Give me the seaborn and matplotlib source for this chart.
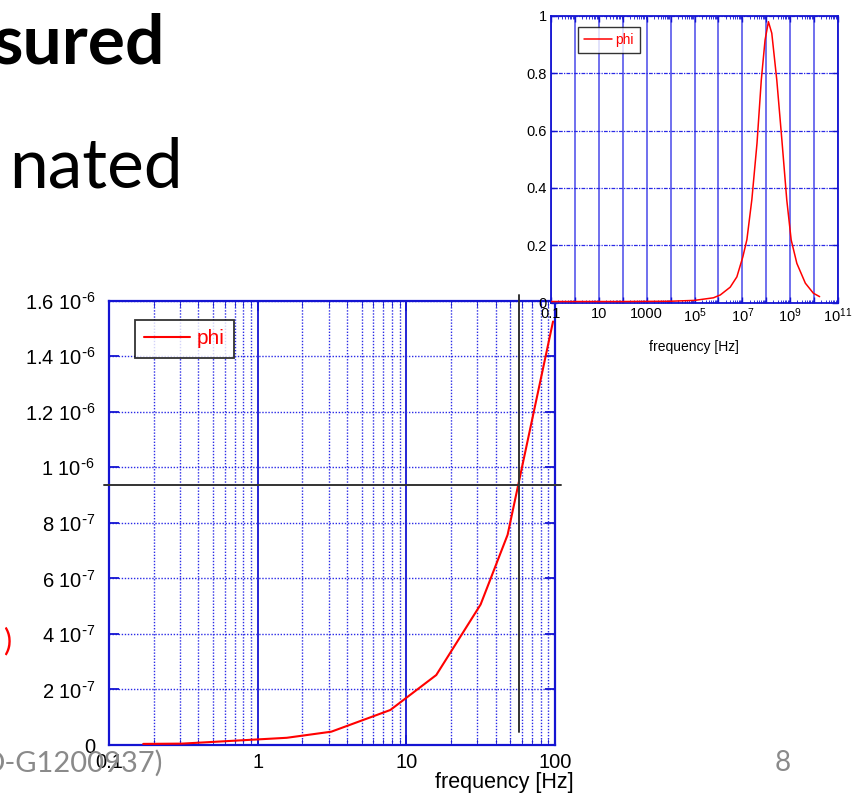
import numpy as np
import matplotlib
matplotlib.use("Agg")
import matplotlib.pyplot as plt
import matplotlib.ticker as mticker
import seaborn as sns

# main plot: phi vs frequency (0.1 - 100 Hz)
main_freq = [0.17, 0.31, 1.57, 3.13, 7.8, 15.9, 31.6, 48.0, 97.0]
main_phi = [0.004e-6, 0.005e-6, 0.026e-6, 0.048e-6, 0.126e-6, 0.252e-6,
            0.506e-6, 0.757e-6, 1.525e-6]
main_xticks = [0.1, 1, 10, 100]
main_xticklabels = ["0.1", "1", "10", "100"]
main_yticks = [0, 0.2e-6, 0.4e-6, 0.6e-6, 0.8e-6, 1.0e-6, 1.2e-6, 1.4e-6, 1.6e-6]
main_yticklabels = ["0",
                    r"2 10$^{\text{-}7}$", r"4 10$^{\text{-}7}$", r"6 10$^{\text{-}7}$",
                    r"8 10$^{\text{-}7}$", r"1 10$^{\text{-}6}$", r"1.2 10$^{\text{-}6}$",
                    r"1.4 10$^{\text{-}6}$", r"1.6 10$^{\text{-}6}$"]
marker_freq = 57.7
marker_phi = 0.938e-6

# inset: full-range peak
inset_freq = [0.1, 1e2, 1e4, 1e5, 6.2e5, 1.2e6, 3.1e6, 5.9e6, 1.05e7, 1.55e7,
              2.5e7, 4.1e7, 6.2e7, 8.9e7, 1.23e8, 1.7e8, 2.75e8, 4.5e8, 7.2e8,
              1.1e9, 1.9e9, 4.3e9, 9.3e9, 1.7e10]
inset_phi = [0.004, 0.004, 0.005, 0.008, 0.017, 0.027, 0.054, 0.09, 0.16, 0.22,
             0.36, 0.556, 0.777, 0.916, 0.98, 0.94, 0.777, 0.567, 0.358,
             0.219, 0.137, 0.068, 0.033, 0.021]
inset_xticks = [1e-1, 1e0, 1e1, 1e2, 1e3, 1e4, 1e5, 1e6, 1e7, 1e8, 1e9, 1e10, 1e11]
inset_xticklabels = ["0.1", "", "10", "", "1000", "", "10$^5$", "", "10$^7$", "",
                     "10$^9$", "", "10$^{11}$"]
inset_yticks = [0, 0.2, 0.4, 0.6, 0.8, 1]
inset_yticklabels = ["0", "0.2", "0.4", "0.6", "0.8", "1"]

sns.set_style("ticks")
plt.rcParams["font.family"] = ["Liberation Sans", "DejaVu Sans"]
plt.rcParams["mathtext.default"] = "regular"
plt.rcParams["text.color"] = "black"
plt.rcParams["xtick.labelcolor"] = "black"
plt.rcParams["ytick.labelcolor"] = "black"

BLUE = "#1414d2"
GRIDBLUE = "#2a2ae6"
SLIDE_FONT = ["Lato", "DejaVu Sans"]

fig = plt.figure(figsize=(8.52, 7.94), dpi=100)

# ---- main axes ----
ax = fig.add_axes([0.1279, 0.0617, 0.5235, 0.5596])
sns.lineplot(x=main_freq, y=main_phi, ax=ax, color="red", linewidth=1.5,
             label="phi", zorder=4)
ax.set_xscale("log")
ax.set_xlim(0.1, 100)
ax.set_ylim(0, 1.6e-6)
ax.set_xticks(main_xticks)
ax.set_xticklabels(main_xticklabels)
ax.set_yticks(main_yticks)
ax.set_yticklabels(main_yticklabels)
ax.xaxis.set_minor_locator(mticker.LogLocator(base=10, subs=np.arange(2, 10)))
ax.xaxis.set_minor_formatter(mticker.NullFormatter())
ax.grid(which="major", axis="x", color=BLUE, linestyle="-", linewidth=1.3)
ax.grid(which="minor", axis="x", color=GRIDBLUE, linestyle=(0, (1, 1.2)), linewidth=1)
ax.grid(which="major", axis="y", color=GRIDBLUE, linestyle=(0, (1, 1.2)), linewidth=1)
ax.tick_params(axis="both", which="major", direction="in", length=7, width=1.3,
               color=BLUE, labelsize=14.5, top=True, right=True)
ax.tick_params(axis="x", which="minor", direction="in", length=4, color=BLUE,
               top=True)
ax.tick_params(axis="y", pad=10)
ax.tick_params(axis="x", pad=6)
for s in ax.spines.values():
    s.set_color(BLUE)
    s.set_linewidth(1.6)
ax.set_xlabel("")
ax.set_ylabel("")

# reference cross-hair lines
ax.plot([-0.011, 1.013], [marker_phi, marker_phi], color="#333333", lw=1.4,
        transform=ax.get_yaxis_transform(), clip_on=False, zorder=5)
ax.plot([marker_freq, marker_freq], [0.029, 1.013], color="#333333", lw=1.4,
        transform=ax.get_xaxis_transform(), clip_on=False, zorder=5)

leg = ax.legend(loc="upper left", bbox_to_anchor=(0.058, 0.957), borderaxespad=0,
                fontsize=15, frameon=True, fancybox=False, handlelength=2.2,
                handletextpad=0.3, borderpad=0.45, labelcolor="red")
leg.get_frame().set_edgecolor("black")
leg.get_frame().set_linewidth(1.3)

fig.text(0.592, 0.0145, "frequency [Hz]", ha="center", va="center", fontsize=15.5)

# ---- inset axes ----
ax2 = fig.add_axes([0.6467, 0.6188, 0.3369, 0.3611])
sns.lineplot(x=inset_freq, y=inset_phi, ax=ax2, color="red", linewidth=1.1,
             label="phi", zorder=4)
ax2.set_xscale("log")
ax2.set_xlim(0.1, 1e11)
ax2.set_ylim(0, 1)
ax2.set_xticks(inset_xticks)
ax2.set_xticklabels(inset_xticklabels)
ax2.set_yticks(inset_yticks)
ax2.set_yticklabels(inset_yticklabels)
ax2.xaxis.set_minor_locator(mticker.LogLocator(base=10, subs=np.arange(2, 10), numticks=30))
ax2.xaxis.set_minor_formatter(mticker.NullFormatter())
ax2.grid(which="major", axis="x", color=GRIDBLUE, linestyle="-", linewidth=1.1, alpha=0.85)
ax2.grid(which="major", axis="y", color=GRIDBLUE, linestyle=(0, (3, 1, 1, 1)), linewidth=0.9)
ax2.tick_params(axis="both", which="major", direction="in", length=4, width=1,
                color=BLUE, labelsize=10.5, top=True, right=True, pad=3)
ax2.tick_params(axis="x", which="minor", direction="in", length=2.5, color=BLUE,
                top=True)
for s in ax2.spines.values():
    s.set_color(BLUE)
    s.set_linewidth(1.3)
ax2.set_xlabel("")
ax2.set_ylabel("")
leg2 = ax2.legend(loc="upper left", bbox_to_anchor=(0.093, 0.962), borderaxespad=0,
                  fontsize=10, frameon=True, fancybox=False, handlelength=2.0,
                  handletextpad=0.25, borderpad=0.45, labelcolor="red")
leg2.get_frame().set_edgecolor("black")
leg2.get_frame().set_linewidth(1)

fig.text(0.8146, 0.563, "frequency [Hz]", ha="center", va="center", fontsize=10)

# ---- slide text fragments ----
fig.text(165 / 852, 1 - 63 / 794, "sured", ha="right", va="baseline",
         fontsize=50, fontweight="bold", color="black", family=SLIDE_FONT)
fig.text(183 / 852, 1 - 187 / 794, "nated", ha="right", va="baseline",
         fontsize=50, color="black", family=SLIDE_FONT)
fig.text(11 / 852, 1 - 641 / 794, ")", ha="right", va="center",
         fontsize=22, color="red", family=SLIDE_FONT)
fig.text(163 / 852, 1 - 772 / 794, "O-G1200937)", ha="right", va="baseline",
         fontsize=21, color="#8a8a8a", family=SLIDE_FONT)
fig.text(783 / 852, 1 - 763 / 794, "8", ha="center", va="center",
         fontsize=20, color="#8a8a8a", family=SLIDE_FONT)

fig.savefig("out.png", dpi=100)
